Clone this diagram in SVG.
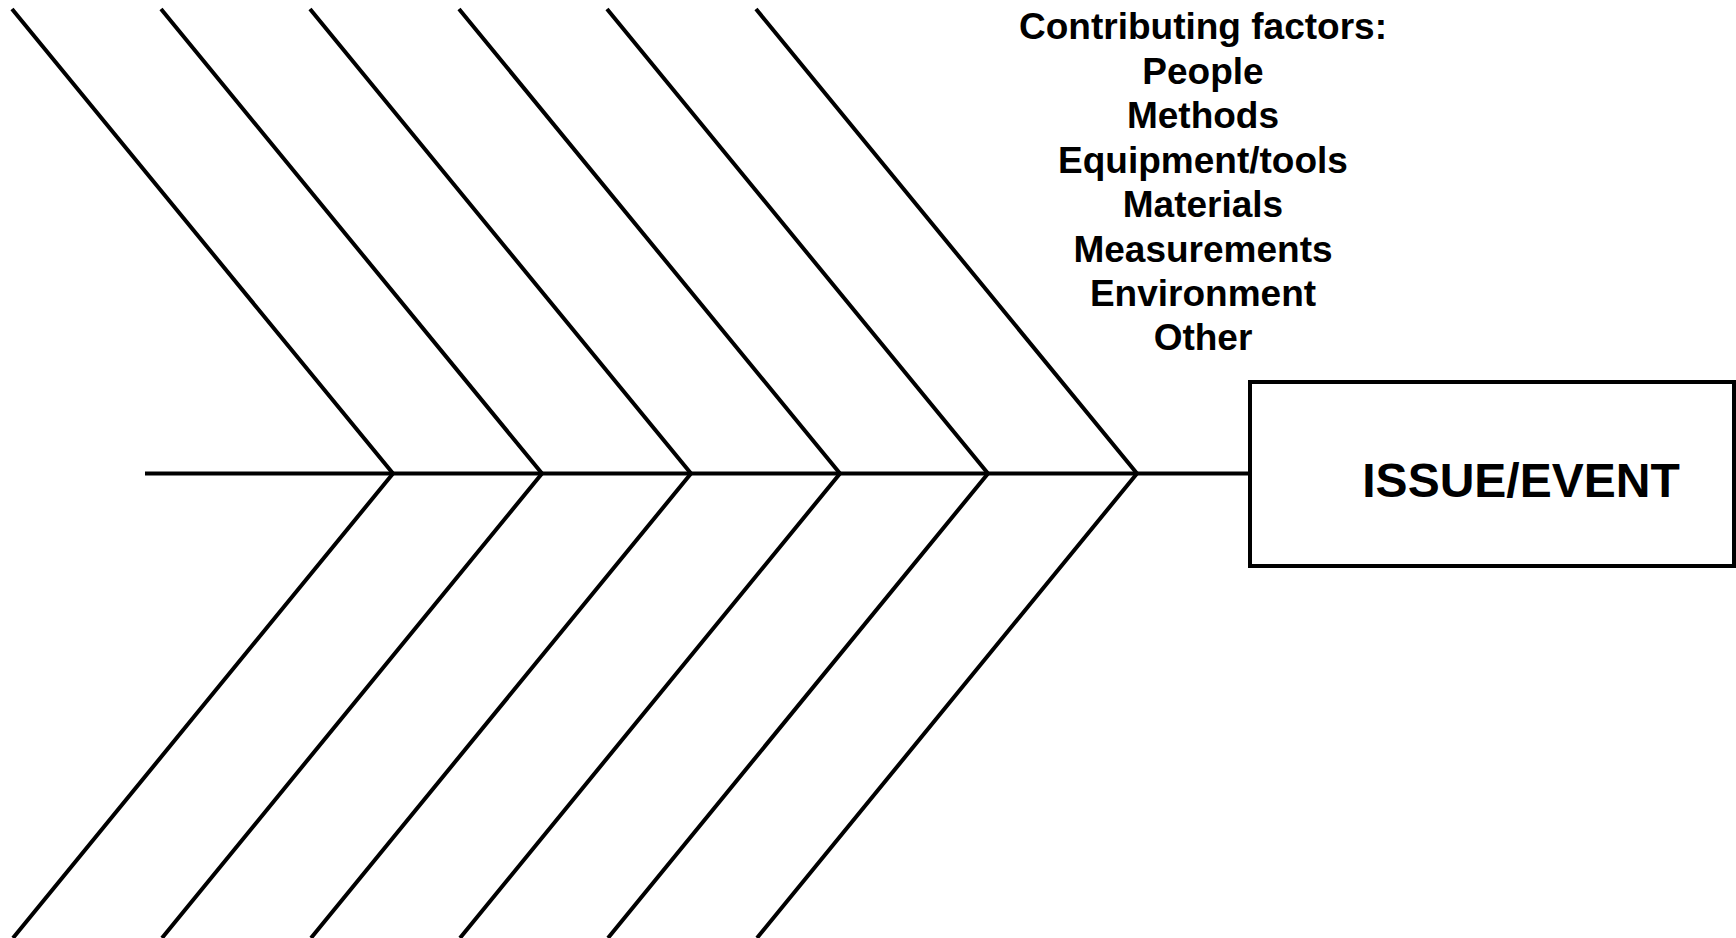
<svg xmlns="http://www.w3.org/2000/svg" width="1736" height="938" viewBox="0 0 1736 938">
<style>
.ln{stroke:#000;stroke-width:4;fill:none;stroke-linecap:butt;stroke-linejoin:miter}
.t{font-family:"Liberation Sans",Arial,sans-serif;font-weight:bold;fill:#000;text-anchor:middle}
</style>
<rect width="1736" height="938" fill="#fff"/>
<g id="connectors" class="ln">
<line x1="145" y1="473.5" x2="1250" y2="473.5"/>
<polyline points="12,9 393,473.5 13,938"/>
<polyline points="161,9 542,473.5 162,938"/>
<polyline points="310,9 691,473.5 311,938"/>
<polyline points="459,9 840,473.5 460,938"/>
<polyline points="607,9 988,473.5 608,938"/>
<polyline points="756,9 1137,473.5 757,938"/>
</g>
<g id="issue">
<rect class="ln" x="1250" y="382" width="484" height="184"/>
<text class="t" x="1521" y="497" font-size="48">ISSUE/EVENT</text>
</g>
<g id="factors" class="t" font-size="37">
<text x="1203" y="39">Contributing factors:</text>
<text x="1203" y="83.5">People</text>
<text x="1203" y="128">Methods</text>
<text x="1203" y="172.5">Equipment/tools</text>
<text x="1203" y="217">Materials</text>
<text x="1203" y="261.5">Measurements</text>
<text x="1203" y="306">Environment</text>
<text x="1203" y="350">Other</text>
</g>
</svg>
